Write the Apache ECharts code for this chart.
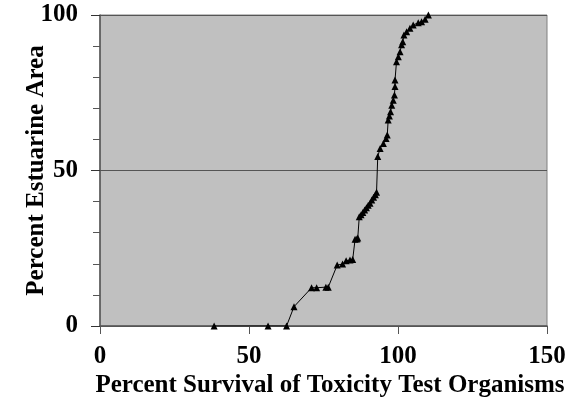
<!DOCTYPE html>
<html>
<head>
<meta charset="utf-8">
<script src="https://cdn.jsdelivr.net/npm/echarts@6/dist/echarts.min.js"></script>
<style>
  html, body { margin: 0; padding: 0; background: #fff; }
  #chart { width: 582px; height: 404px; }
</style>
</head>
<body>
<div id="chart"></div>
<script>
// percent survival (x) and percent estuarine area (y)
const survival = [
  38.3, 56.4, 62.6, 65.1, 71.0, 72.7, 75.8, 76.6, 79.6, 81.4, 82.6, 83.9, 84.8,
  85.6, 86.2, 86.5, 87.0, 87.6, 88.2, 88.8, 89.4, 90.0, 90.6, 91.2, 91.8, 92.4, 92.8,
  93.2, 94.0, 95.1, 96.0, 96.4, 96.7, 97.1, 97.5, 97.9, 98.4, 98.8, 99.0, 99.0,
  99.5, 100.1, 100.7, 101.2, 101.6, 102.0, 102.9, 104.0, 105.1, 106.8, 107.9, 109.1, 110.2
];
const area = [
  0, 0, 0, 6.2, 12.3, 12.3, 12.5, 12.5, 19.6, 19.9, 21.0, 21.2, 21.4,
  27.9, 28.0, 28.3, 35.1, 35.8, 36.5, 37.3, 38.0, 38.8, 39.5, 40.5, 41.4, 42.2, 43.0,
  54.5, 57.1, 58.7, 60.3, 61.4, 66.2, 67.5, 68.9, 71.0, 72.6, 74.3, 77.0, 79.1,
  85.0, 86.6, 88.2, 90.4, 91.4, 93.6, 94.6, 95.7, 96.8, 97.5, 97.8, 98.6, 100.0
];
const xTicks = [0, 150, 50];   // min, max, interval
const yTicks = [0, 100, 50];

const chart = echarts.init(document.getElementById('chart'));

const font = {
  fontFamily: '"Liberation Serif", "Times New Roman", serif',
  fontWeight: 'bold',
  fontSize: 25,
  color: '#000'
};

chart.setOption({
  animation: false,
  grid: {
    left: 100,
    top: 15,
    right: 35,
    bottom: 78,
    outerBoundsMode: 'none',
    show: true,
    backgroundColor: '#c0c0c0',
    borderColor: '#808080',
    borderWidth: 1
  },
  xAxis: {
    type: 'value',
    min: xTicks[0],
    max: xTicks[1],
    interval: xTicks[2],
    name: 'Percent Survival of Toxicity Test Organisms',
    nameLocation: 'middle',
    nameGap: 47,
    nameMoveOverlap: false,
    nameTextStyle: Object.assign({}, font, { padding: [0, 0, 0, 13] }),
    axisLine: { lineStyle: { color: '#555', width: 1.5 } },
    axisTick: { show: true, length: 8, lineStyle: { color: '#555' } },
    axisLabel: Object.assign({}, font, { margin: 18 }),
    splitLine: { show: false }
  },
  yAxis: {
    type: 'value',
    min: yTicks[0],
    max: yTicks[1],
    interval: yTicks[2],
    name: 'Percent Estuarine Area',
    nameLocation: 'middle',
    nameGap: 51,
    nameMoveOverlap: false,
    nameTextStyle: font,
    axisLine: { show: true, lineStyle: { color: '#555', width: 1.5 } },
    axisTick: { show: true, length: 9, lineStyle: { color: '#333' } },
    minorTick: { show: true, splitNumber: 5, length: 7, lineStyle: { color: '#555' } },
    axisLabel: Object.assign({}, font, { margin: 22 }),
    splitLine: { show: true, lineStyle: { color: '#555', width: 1.2 } }
  },
  series: [
    {
      type: 'line',
      data: survival.map((x, i) => [x, area[i]]),
      symbol: 'triangle',
      symbolSize: 7,
      showAllSymbol: true,
      itemStyle: { color: '#000' },
      lineStyle: { color: '#000', width: 1 }
    }
  ]
});
</script>
</body>
</html>
